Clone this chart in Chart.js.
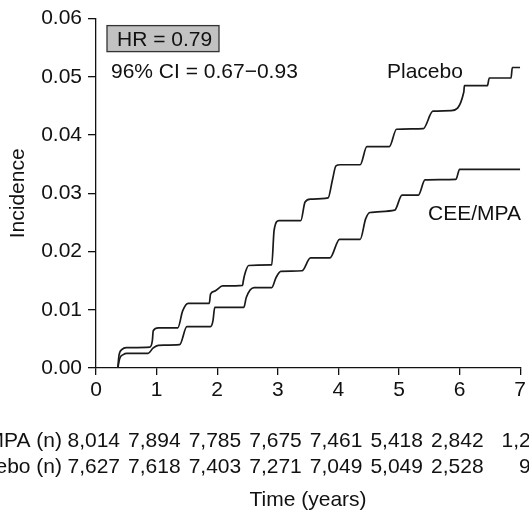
<!DOCTYPE html>
<html lang="en">
<head>
  <meta charset="UTF-8" />
  <title>Incidence by treatment group</title>
  <script src="https://cdn.jsdelivr.net/npm/chart.js"></script>
  <style>
    html, body { margin: 0; padding: 0; background: #fff; overflow: hidden; }
    .wrap { width: 529px; height: 513px; position: relative; }
  </style>
</head>
<body>
  <div class="wrap"><canvas id="kmChart"></canvas></div>

  <script>
    // Cumulative incidence (years, incidence)
    const placeboYears = [0.36, 0.38, 0.43, 0.50, 0.89, 0.93, 0.945, 1.03, 1.35, 1.43, 1.52, 1.87, 1.89, 1.96, 2.09,
      2.42, 2.43, 2.47, 2.52, 2.88, 2.90, 2.94, 3.02, 3.38, 3.45, 3.54, 3.83, 3.90, 3.96, 4.03, 4.36, 4.47,
      4.84, 4.96, 5.40, 5.56, 5.86, 6.07, 6.08, 6.46, 6.49, 6.85, 6.87, 7.0];
    const placeboIncidence = [0, 0.0022, 0.0032, 0.0035, 0.0036, 0.0047, 0.0064, 0.0069, 0.0069, 0.0098, 0.0111, 0.0111, 0.0127, 0.0132, 0.0141,
      0.0142, 0.0149, 0.0166, 0.0176, 0.0177, 0.0177, 0.0237, 0.0253, 0.0253, 0.0285, 0.0290, 0.0292, 0.0322, 0.0347, 0.0349, 0.0349, 0.0380,
      0.0380, 0.0410, 0.0411, 0.0441, 0.0442, 0.0474, 0.0485, 0.0485, 0.0498, 0.0498, 0.0516, 0.0516];

    const ceeYears = [0.36, 0.39, 0.45, 0.51, 0.86, 0.94, 1.03, 1.38, 1.50, 1.89, 1.93, 1.96, 2.44, 2.48, 2.61,
      2.90, 2.97, 3.05, 3.40, 3.54, 3.86, 4.02, 4.36, 4.45, 4.52, 4.93, 5.05, 5.32, 5.43, 5.94, 6.00, 7.0];
    const ceeIncidence = [0, 0.0016, 0.0023, 0.0025, 0.0025, 0.0034, 0.0039, 0.0040, 0.0071, 0.0071, 0.0081, 0.0104, 0.0104, 0.0121, 0.0138,
      0.0138, 0.0155, 0.0166, 0.0167, 0.0189, 0.0189, 0.0221, 0.0221, 0.0256, 0.0267, 0.0271, 0.0297, 0.0297, 0.0323, 0.0324, 0.0341, 0.0341];

    const yearTicks = [0, 1, 2, 3, 4, 5, 6, 7];
    const incidenceTicks = [0, 0.01, 0.02, 0.03, 0.04, 0.05, 0.06];

    // Numbers at risk under each year tick
    const riskLabels = ['CEE/MPA (n)', 'Placebo (n)'];
    const ceeAtRisk = ['8,014', '7,894', '7,785', '7,675', '7,461', '5,418', '2,842', '1,249'];
    const placeboAtRisk = ['7,627', '7,618', '7,403', '7,271', '7,049', '5,049', '2,528', '921'];

    const FONT = '"Liberation Sans", Arial, sans-serif';
    const INK = '#111';

    const toPoints = (xs, ys) => xs.map((x, i) => ({ x: x, y: ys[i] }));

    // Draws the HR box, curve labels and the numbers-at-risk table
    const annotations = {
      id: 'annotations',
      afterDraw(chart) {
        const ctx = chart.ctx;
        const area = chart.chartArea;
        const xs = chart.scales.x;
        ctx.save();
        ctx.font = '21px ' + FONT;
        ctx.textBaseline = 'alphabetic';

        // HR box
        ctx.fillStyle = '#c2c2c2';
        ctx.fillRect(area.left + 11, area.top + 7, 112, 26);
        ctx.strokeStyle = '#333';
        ctx.lineWidth = 1.3;
        ctx.strokeRect(area.left + 11, area.top + 7, 112, 26);
        ctx.fillStyle = INK;
        ctx.textAlign = 'left';
        ctx.fillText('HR = 0.79', area.left + 21, area.top + 27);
        ctx.fillText('96% CI = 0.67\u22120.93', area.left + 15, area.top + 59);

        ctx.fillText('Placebo', 387, 78);
        ctx.fillText('CEE/MPA', 428, 220);

        // at-risk table; the last column sits a little further right in the original
        const rows = [ceeAtRisk, placeboAtRisk];
        const baselines = [446.5, 473];
        rows.forEach((row, r) => {
          ctx.textAlign = 'right';
          ctx.fillText(riskLabels[r], area.left - 34, baselines[r]);
          row.forEach((val, i) => {
            const extra = i === row.length - 1 ? 10 : 0;
            ctx.fillText(val, xs.getPixelForValue(yearTicks[i]) + 24 + extra, baselines[r]);
          });
        });
        ctx.restore();
      }
    };

    const ctx = document.getElementById('kmChart').getContext('2d');
    const chart = new Chart(ctx, {
      type: 'line',
      data: {
        datasets: [{
          label: 'Placebo',
          data: toPoints(placeboYears, placeboIncidence),
          borderColor: '#1a1a1a',
          borderWidth: 1.7,
          pointRadius: 0,
          cubicInterpolationMode: 'monotone',
          fill: false
        }, {
          label: 'CEE/MPA',
          data: toPoints(ceeYears, ceeIncidence),
          borderColor: '#1a1a1a',
          borderWidth: 1.7,
          pointRadius: 0,
          cubicInterpolationMode: 'monotone',
          fill: false
        }]
      },
      options: {
        responsive: true,
        maintainAspectRatio: false,
        animation: false,
        layout: { padding: { top: 15, right: 6, left: 0, bottom: 0 } },
        plugins: {
          legend: { display: false },
          tooltip: { enabled: false }
        },
        scales: {
          x: {
            type: 'linear',
            min: 0,
            max: 7,
            afterBuildTicks: s => { s.ticks = yearTicks.map(v => ({ value: v })); },
            afterFit: s => { s.height = 145; },
            ticks: { color: INK, font: { family: FONT, size: 21 }, padding: 3, maxRotation: 0 },
            grid: { drawOnChartArea: false, tickLength: 7, color: INK, lineWidth: 1.3 },
            border: { color: INK, width: 1.3 },
            title: {
              display: true,
              text: 'Time (years)',
              color: INK,
              font: { family: FONT, size: 21 },
              padding: { top: 0, bottom: 0 }
            }
          },
          y: {
            min: 0,
            max: 0.06,
            afterBuildTicks: s => { s.ticks = incidenceTicks.map(v => ({ value: v })); },
            afterFit: s => { s.width = 96; },
            ticks: {
              color: INK,
              font: { family: FONT, size: 21 },
              padding: 6,
              callback: v => v.toFixed(2)
            },
            grid: { drawOnChartArea: false, tickLength: 8, color: INK, lineWidth: 1.3 },
            border: { color: INK, width: 1.3 },
            title: {
              display: true,
              text: 'Incidence',
              color: INK,
              font: { family: FONT, size: 21 },
              padding: { top: 6, bottom: 0 }
            }
          }
        }
      },
      plugins: [annotations]
    });
  </script>
</body>
</html>
